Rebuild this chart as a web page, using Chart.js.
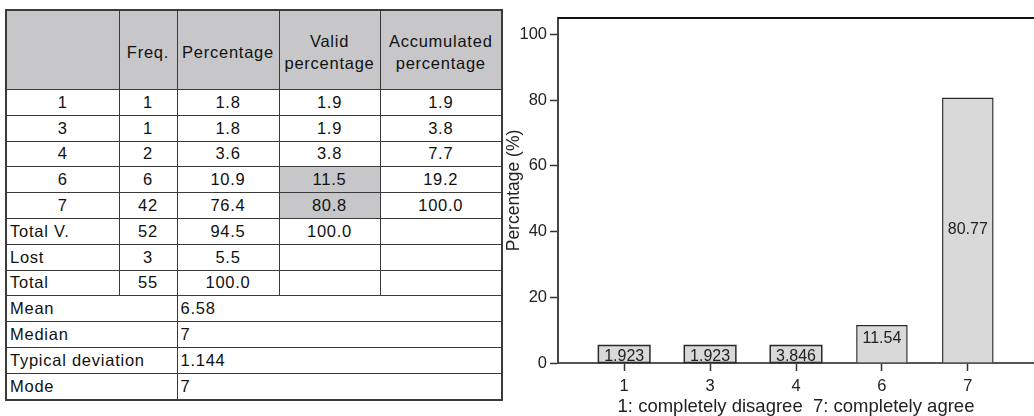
<!DOCTYPE html>
<html>
<head>
<meta charset="utf-8">
<script src="https://cdn.jsdelivr.net/npm/chart.js@4"></script>
<style>
  html, body { margin: 0; padding: 0; background: #fff; width: 1034px; height: 416px; overflow: hidden; }
  #tbl {
    position: absolute; left: 5px; top: 9px; width: 496px;
    border-collapse: collapse; table-layout: fixed;
    font-family: "Liberation Sans", Arial, sans-serif; font-size: 16.5px; letter-spacing: 0.75px;
    color: #111; border: 2px solid #3a3a3a;
  }
  #tbl td { border: 1px solid #3a3a3a; padding: 0 3px; height: 24.8px; text-align: center; white-space: nowrap; overflow: hidden; line-height: 17px; }
  #tbl tr.head td { background: #c7c7ca; height: 75px; line-height: 22px; padding-top: 3px; }
  #tbl td.left { text-align: left; }
  #tbl td.hl { background: #c7c7ca; }
  #wrap { position: absolute; left: 500px; top: 0; width: 534px; height: 416px; }
</style>
</head>
<body>
<table id="tbl">
  <colgroup><col style="width:113px"><col style="width:58px"><col style="width:102px"><col style="width:101px"><col style="width:122px"></colgroup>
  <tbody id="tbody"></tbody>
</table>
<div id="wrap"><canvas id="myChart"></canvas></div>
<script>
// table data
const headers = ['', 'Freq.', 'Percentage', 'Valid<br>percentage', 'Accumulated<br>percentage'];
const rowLabels = ['1', '3', '4', '6', '7', 'Total V.', 'Lost', 'Total'];
const freq = ['1', '1', '2', '6', '42', '52', '3', '55'];
const percentage = ['1.8', '1.8', '3.6', '10.9', '76.4', '94.5', '5.5', '100.0'];
const validPct = ['1.9', '1.9', '3.8', '11.5', '80.8', '100.0', '', ''];
const accumPct = ['1.9', '3.8', '7.7', '19.2', '100.0', '', '', ''];
const highlighted = [3, 4];
const statLabels = ['Mean', 'Median', 'Typical deviation', 'Mode'];
const statValues = ['6.58', '7', '1.144', '7'];

// chart data
const categories = ['1', '3', '4', '6', '7'];
const barValues = [1.923, 1.923, 3.846, 11.54, 80.77];
const barLabels = ['1.923', '1.923', '3.846', '11.54', '80.77'];
const yTicks = [0, 20, 40, 60, 80, 100];

// build table
const tbody = document.getElementById('tbody');
let html = '<tr class="head">' + headers.map(h => '<td>' + h + '</td>').join('') + '</tr>';
rowLabels.forEach((lab, i) => {
  const cls = /^\d+$/.test(lab) ? '' : ' class="left"';
  html += '<tr><td' + cls + '>' + lab + '</td><td>' + freq[i] + '</td><td>' + percentage[i] + '</td>' +
    '<td' + (highlighted.includes(i) ? ' class="hl"' : '') + '>' + validPct[i] + '</td><td>' + accumPct[i] + '</td></tr>';
});
statLabels.forEach((lab, i) => {
  html += '<tr><td colspan="2" class="left">' + lab + '</td><td colspan="3" class="left">' + statValues[i] + '</td></tr>';
});
tbody.innerHTML = html;

// bar labels, boxed when the bar is too short for the text
const labelPlugin = {
  id: 'barLabels',
  afterDatasetsDraw(chart) {
    const ctx = chart.ctx;
    const meta = chart.getDatasetMeta(0);
    ctx.save();
    ctx.font = '16px "Liberation Sans", Arial, sans-serif';
    ctx.textAlign = 'center';
    meta.data.forEach((bar, i) => {
      const base = bar.base;
      const h = base - bar.y;
      if (h < 20) {
        const top = Math.min(bar.y, base - 17);
        ctx.fillStyle = '#d9d9d9';
        ctx.strokeStyle = '#2a2a2a';
        ctx.lineWidth = 1.5;
        ctx.fillRect(bar.x - bar.width / 2, top, bar.width, base - top);
        ctx.strokeRect(bar.x - bar.width / 2, top, bar.width, base - top);
        ctx.fillStyle = '#222';
        ctx.textBaseline = 'bottom';
        ctx.fillText(barLabels[i], bar.x, base + 2);
      } else {
        ctx.fillStyle = '#222';
        ctx.textBaseline = 'middle';
        ctx.fillText(barLabels[i], bar.x, Math.min((bar.y + base) / 2, base - 24));
      }
    });
    ctx.restore();
  }
};

const frameTop = {
  id: 'frameTop',
  afterDraw(chart) {
    const { ctx, chartArea } = chart;
    ctx.save();
    ctx.strokeStyle = '#111';
    ctx.lineWidth = 2;
    ctx.beginPath();
    ctx.moveTo(chartArea.left, chartArea.top);
    ctx.lineTo(chartArea.right + 2, chartArea.top);
    ctx.stroke();
    ctx.restore();
  }
};

Chart.defaults.font.family = '"Liberation Sans", Arial, sans-serif';
Chart.defaults.font.size = 16.5;
Chart.defaults.color = '#222';

const ctx = document.getElementById('myChart').getContext('2d');
new Chart(ctx, {
  type: 'bar',
  data: {
    datasets: [{
      data: barValues.map((v, i) => ({ x: i, y: v })),
      backgroundColor: '#d9d9d9',
      borderColor: '#2a2a2a',
      borderWidth: 1.5,
      barPercentage: 0.75,
      categoryPercentage: 0.8
    }]
  },
  options: {
    responsive: true,
    maintainAspectRatio: false,
    animation: false,
    layout: { padding: { top: 18, left: 0, right: 0, bottom: 0 } },
    plugins: { legend: { display: false }, tooltip: { enabled: false } },
    scales: {
      x: {
        type: 'linear',
        offset: false,
        min: -0.77,
        max: 4.77,
        afterBuildTicks: s => { s.ticks = categories.map((c, i) => ({ value: i })); },
        afterFit: s => { s.height = 53; },
        ticks: { callback: v => categories[v] ?? '', padding: 6, maxRotation: 0, autoSkip: false },
        grid: { offset: false, drawOnChartArea: false, tickLength: 8, tickColor: '#333', tickWidth: 1.5 },
        border: { color: '#555', width: 2 },
        title: { display: true, text: '1: completely disagree  7: completely agree', font: { size: 18.5 }, padding: { top: 0, bottom: -2 } }
      },
      y: {
        min: 0,
        max: 105,
        afterBuildTicks: s => { s.ticks = yTicks.map(v => ({ value: v })); },
        afterFit: s => { s.width = 58; },
        ticks: { padding: 3 },
        grid: { drawOnChartArea: false, tickLength: 8, tickColor: '#333', tickWidth: 1.5 },
        border: { color: '#444', width: 2 },
        title: { display: true, text: 'Percentage (%)', font: { size: 17.5 }, padding: { top: 4, bottom: 2 } }
      }
    }
  },
  plugins: [labelPlugin, frameTop]
});
</script>
</body>
</html>
